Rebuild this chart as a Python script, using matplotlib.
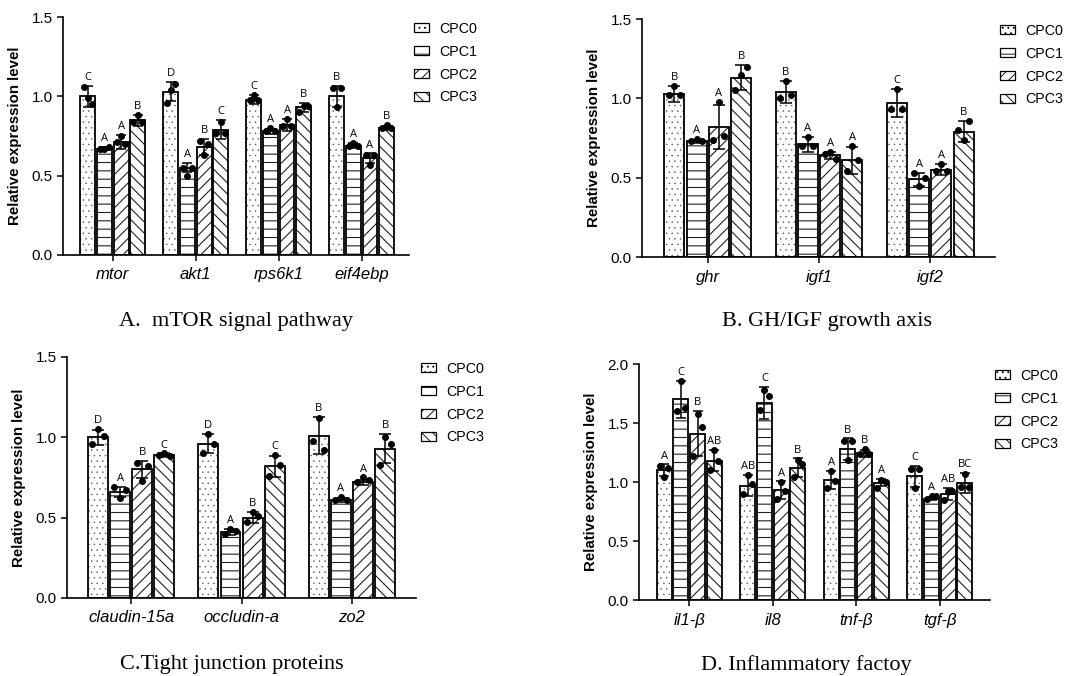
import numpy as np
import matplotlib
matplotlib.use("Agg")
from matplotlib import pyplot as plt
from matplotlib.patches import Patch

plt.rcParams['font.family'] = ['Liberation Sans', 'DejaVu Sans']

groups = ['CPC0', 'CPC1', 'CPC2', 'CPC3']
hatches = ['...', '--', '///', '\\\\\\']
hatch_lw = [0.3, 0.8, 0.8, 0.8]
hatch_col = ['#555555', '#222222', '#222222', '#222222']

# A. mTOR signal pathway
genes_a = ['mtor', 'akt1', 'rps6k1', 'eif4ebp']
means_a = [[1.00, 0.67, 0.71, 0.85],
           [1.03, 0.55, 0.68, 0.79],
           [0.98, 0.78, 0.82, 0.93],
           [1.00, 0.69, 0.61, 0.80]]
sds_a = [[0.065, 0.01, 0.045, 0.035],
         [0.06, 0.03, 0.05, 0.06],
         [0.03, 0.015, 0.04, 0.03],
         [0.065, 0.015, 0.03, 0.012]]
dots_a = [[[1.06, 0.99, 0.95], [0.67, 0.67, 0.68], [0.71, 0.75, 0.70], [0.84, 0.88, 0.84]],
          [[0.96, 1.04, 1.08], [0.55, 0.50, 0.55], [0.72, 0.63, 0.70], [0.77, 0.84, 0.77]],
          [[0.98, 1.01, 0.98], [0.78, 0.80, 0.78], [0.815, 0.86, 0.815], [0.90, 0.94, 0.94]],
          [[1.05, 0.93, 1.05], [0.685, 0.705, 0.69], [0.63, 0.57, 0.63], [0.80, 0.82, 0.80]]]
letters_a = [['C', 'A', 'A', 'B'], ['D', 'A', 'B', 'C'],
             ['C', 'A', 'A', 'B'], ['B', 'A', 'A', 'B']]

# B. GH/IGF growth axis
genes_b = ['ghr', 'igf1', 'igf2']
means_b = [[1.03, 0.73, 0.82, 1.13],
           [1.04, 0.71, 0.64, 0.61],
           [0.97, 0.49, 0.55, 0.79]]
sds_b = [[0.05, 0.01, 0.14, 0.08],
         [0.07, 0.045, 0.025, 0.085],
         [0.09, 0.04, 0.035, 0.065]]
dots_b = [[[1.02, 1.08, 1.02], [0.73, 0.745, 0.73], [0.735, 0.975, 0.765], [1.05, 1.15, 1.20]],
          [[1.00, 1.11, 1.02], [0.70, 0.755, 0.70], [0.65, 0.665, 0.615], [0.54, 0.70, 0.61]],
          [[0.935, 1.06, 0.935], [0.53, 0.45, 0.50], [0.54, 0.585, 0.54], [0.80, 0.74, 0.86]]]
letters_b = [['B', 'A', 'A', 'B'], ['B', 'A', 'A', 'A'], ['C', 'A', 'A', 'B']]

# C. Tight junction proteins
genes_c = ['claudin-15a', 'occludin-a', 'zo2']
means_c = [[1.00, 0.66, 0.80, 0.89],
           [0.96, 0.41, 0.50, 0.82],
           [1.01, 0.61, 0.72, 0.93]]
sds_c = [[0.045, 0.03, 0.055, 0.01],
         [0.06, 0.02, 0.035, 0.065],
         [0.115, 0.01, 0.015, 0.09]]
dots_c = [[[0.96, 1.05, 1.01], [0.69, 0.62, 0.67], [0.84, 0.73, 0.82], [0.89, 0.90, 0.885]],
          [[0.905, 1.02, 0.96], [0.40, 0.43, 0.42], [0.47, 0.535, 0.51], [0.76, 0.89, 0.83]],
          [[0.98, 1.12, 0.92], [0.61, 0.63, 0.61], [0.725, 0.75, 0.735], [0.83, 1.00, 0.96]]]
letters_c = [['D', 'A', 'B', 'C'], ['D', 'A', 'B', 'C'], ['B', 'A', 'A', 'B']]

# D. Inflammatory factoy
genes_d = ['il1-β', 'il8', 'tnf-β', 'tgf-β']
means_d = [[1.10, 1.70, 1.41, 1.18],
           [0.97, 1.67, 0.93, 1.12],
           [1.02, 1.28, 1.245, 0.995],
           [1.05, 0.86, 0.90, 0.99]]
sds_d = [[0.05, 0.16, 0.19, 0.09],
         [0.09, 0.135, 0.075, 0.08],
         [0.075, 0.09, 0.03, 0.03],
         [0.09, 0.015, 0.05, 0.085]]
dots_d = [[[1.14, 1.04, 1.12], [1.60, 1.86, 1.63], [1.22, 1.58, 1.47], [1.10, 1.27, 1.18]],
          [[0.90, 1.06, 0.98], [1.61, 1.78, 1.73], [0.86, 1.00, 0.92], [1.04, 1.19, 1.15]],
          [[0.95, 1.09, 1.01], [1.35, 1.19, 1.35], [1.24, 1.28, 1.24], [0.95, 1.02, 1.00]],
          [[1.11, 0.95, 1.11], [0.86, 0.88, 0.88], [0.85, 0.92, 0.925], [0.96, 1.07, 0.96]]]
letters_d = [['A', 'C', 'B', 'AB'], ['AB', 'C', 'A', 'B'],
             ['A', 'B', 'B', 'A'], ['C', 'A', 'AB', 'BC']]


def hatched_bars(ax, xs, heights, width, j):
    plt.rcParams['hatch.linewidth'] = hatch_lw[j]
    bars = ax.bar(xs, heights, width=width, color='white', edgecolor=hatch_col[j],
                  linewidth=0, hatch=hatches[j], zorder=2)
    for b in bars:
        if hasattr(b, 'set_hatch_linewidth'):
            b.set_hatch_linewidth(hatch_lw[j])
    ax.bar(xs, heights, width=width, fill=False, edgecolor='black',
           linewidth=1.3, zorder=2.5)


def draw_panel(ax, genes, means, sds, dots, letters, ymax, yticks, xlim, capsize):
    width = 0.18
    pitch = 0.2
    x = np.arange(len(genes))
    means = np.array(means)
    sds = np.array(sds)
    for j in range(len(groups)):
        xs = x + (j - 1.5) * pitch
        hatched_bars(ax, xs, means[:, j], width, j)
        ax.errorbar(xs, means[:, j], yerr=sds[:, j], fmt='none', ecolor='black',
                    elinewidth=1.1, capsize=capsize, capthick=1.1, zorder=3)
        for i in range(len(genes)):
            ax.plot(xs[i] + np.array([-0.28, 0.0, 0.28]) * width, dots[i][j], 'o',
                    color='black', markersize=4, zorder=4)
            top = max(means[i, j] + sds[i, j], max(dots[i][j]))
            ax.text(xs[i], top + ymax * 0.012, letters[i][j], ha='center', va='bottom',
                    fontsize=8, family=['Open Sans', 'DejaVu Sans'])
    ax.set_ylim(0, ymax)
    ax.set_yticks(yticks)
    ax.set_yticklabels(['%.1f' % t for t in yticks])
    ax.set_xlim(*xlim)
    ax.set_xticks(x)
    ax.set_xticklabels(genes, fontstyle='italic', fontsize=12)
    ax.tick_params(axis='y', labelsize=11, length=4, width=1.1)
    ax.tick_params(axis='x', length=4, width=1.1, pad=5)
    for side in ['top', 'right']:
        ax.spines[side].set_visible(False)
    for side in ['left', 'bottom']:
        ax.spines[side].set_linewidth(1.2)
    ax.set_ylabel('Relative expression level', fontweight='bold', fontsize=10.8, labelpad=7)
    handles = []
    for j, h in enumerate(hatches):
        plt.rcParams['hatch.linewidth'] = max(hatch_lw[j], 0.5) * 0.8
        handles.append(Patch(facecolor='white', edgecolor='black', hatch=h, linewidth=0.9))
    ax.legend(handles, groups, loc='upper left', bbox_to_anchor=(1.015, 0.98),
              frameon=False, fontsize=10.3, handlelength=1.05, handleheight=0.55,
              labelspacing=0.62, borderaxespad=0, borderpad=0, handletextpad=0.7)


fig = plt.figure(figsize=(10.69, 6.76), dpi=100)

ax_a = fig.add_axes([0.0589, 0.6228, 0.3237, 0.352])
draw_panel(ax_a, genes_a, means_a, sds_a, dots_a, letters_a, 1.5, [0, 0.5, 1.0, 1.5],
           (-0.6, 3.57), 3.5)

ax_b = fig.add_axes([0.6006, 0.6198, 0.330, 0.352])
draw_panel(ax_b, genes_b, means_b, sds_b, dots_b, letters_b, 1.5, [0, 0.5, 1.0, 1.5],
           (-0.59, 2.58), 4.5)

ax_c = fig.add_axes([0.0627, 0.1154, 0.3265, 0.3565])
draw_panel(ax_c, genes_c, means_c, sds_c, dots_c, letters_c, 1.5, [0, 0.5, 1.0, 1.5],
           (-0.58, 2.58), 4.5)

ax_d = fig.add_axes([0.5978, 0.1124, 0.3283, 0.349])
draw_panel(ax_d, genes_d, means_d, sds_d, dots_d, letters_d, 2.0, [0, 0.5, 1.0, 1.5, 2.0],
           (-0.6, 3.6), 3.5)

title_font = dict(fontsize=16, family=['Liberation Serif', 'DejaVu Serif'],
                  ha='center', va='center')
fig.text(0.2208, 0.5237, 'A.  mTOR signal pathway', **title_font)
fig.text(0.7736, 0.5237, 'B. GH/IGF growth axis', **title_font)
fig.text(0.217, 0.0163, 'C.Tight junction proteins', **title_font)
fig.text(0.754, 0.0163, 'D. Inflammatory factoy', **title_font)

fig.savefig('out.png', dpi=100)
